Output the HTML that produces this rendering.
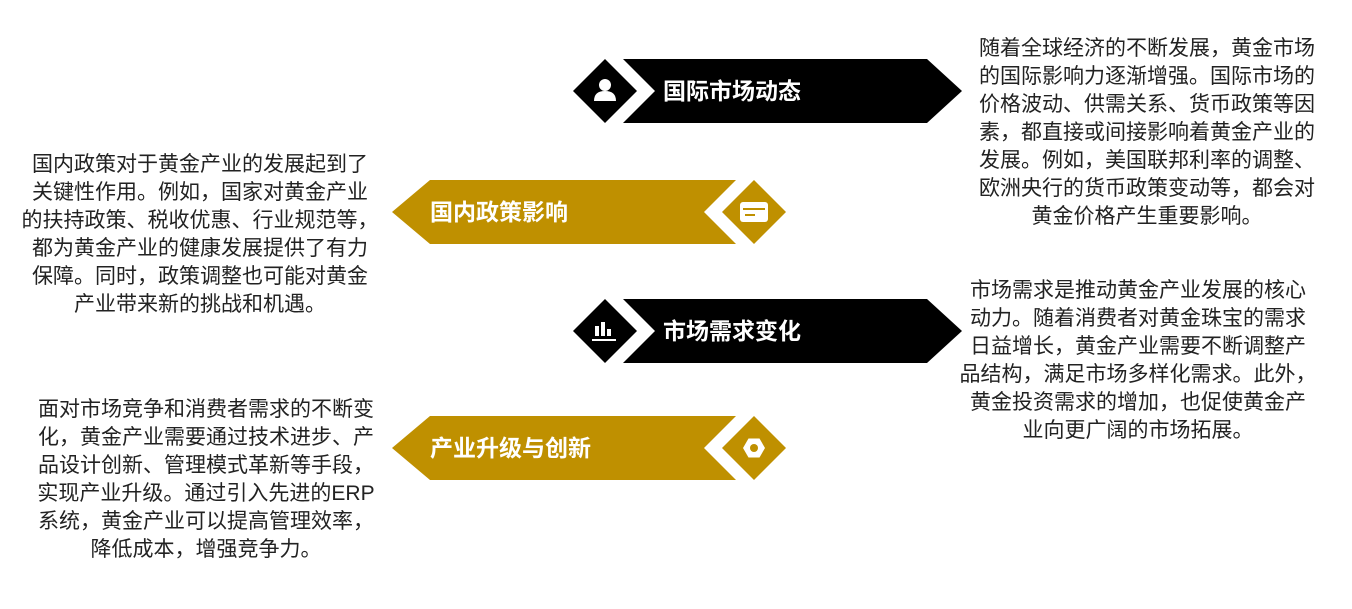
<!DOCTYPE html>
<html><head><meta charset="utf-8"><style>
body{margin:0;width:1352px;height:609px;background:#fff;position:relative;overflow:hidden;font-family:"Liberation Sans","Noto Sans CJK SC",sans-serif;}
.t{position:absolute;font-size:21px;line-height:28px;color:#222;text-align:center;white-space:nowrap;}
.l{position:absolute;font-size:23px;font-weight:bold;color:#fff;line-height:64px;}
svg{position:absolute;left:0;top:0}
</style></head><body>
<svg width="1352" height="609">
<g>
<polygon points="573,91 605,59 637,91 605,123" fill="#000"/>
<polygon points="623,59 927,59 962,91 927,123 623,123 655,91" fill="#000"/>
<circle cx="605" cy="85" r="6" fill="#fff"/><path d="M594,101 q0,-10 11,-10 q11,0 11,10 z" fill="#fff"/>
</g>
<g>
<polygon points="722,212 754,180 786,212 754,244" fill="#BF9000"/>
<polygon points="736,180 704,212 736,244 430,244 392,212 430,180" fill="#BF9000"/>
<rect x="740" y="202" width="28" height="20" rx="3" fill="#fff"/><rect x="743" y="208" width="22" height="2" fill="#BF9000"/><rect x="745" y="214" width="10" height="2" fill="#BF9000"/>
</g>
<g>
<polygon points="573,331 605,299 637,331 605,363" fill="#000"/>
<polygon points="623,299 927,299 962,331 927,363 623,363 655,331" fill="#000"/>
<rect x="595" y="326" width="4" height="10" fill="#fff"/><rect x="601" y="322" width="4" height="14" fill="#fff"/><rect x="607" y="329" width="4" height="7" fill="#fff"/><rect x="592" y="339" width="24" height="2" fill="#fff"/>
</g>
<g>
<polygon points="722,448 754,416 786,448 754,480" fill="#BF9000"/>
<polygon points="736,416 704,448 736,480 430,480 392,448 430,416" fill="#BF9000"/>
<polygon points="743,448 748.5,438.5 759.5,438.5 765,448 759.5,457.5 748.5,457.5" fill="#fff"/><circle cx="754" cy="448" r="4" fill="#BF9000"/>
</g>
</svg>
<div class="l" style="left:663px;top:59px">国际市场动态</div>
<div class="l" style="left:430px;top:180px">国内政策影响</div>
<div class="l" style="left:663px;top:299px">市场需求变化</div>
<div class="l" style="left:430px;top:416px">产业升级与创新</div>
<div class="t" style="left:966px;top:35px;width:362px">随着全球经济的不断发展，黄金市场<br>的国际影响力逐渐增强。国际市场的<br>价格波动、供需关系、货币政策等因<br>素，都直接或间接影响着黄金产业的<br>发展。例如，美国联邦利率的调整、<br>欧洲央行的货币政策变动等，都会对<br>黄金价格产生重要影响。</div>
<div class="t" style="left:18px;top:151px;width:364px">国内政策对于黄金产业的发展起到了<br>关键性作用。例如，国家对黄金产业<br>的扶持政策、税收优惠、行业规范等，<br>都为黄金产业的健康发展提供了有力<br>保障。同时，政策调整也可能对黄金<br>产业带来新的挑战和机遇。</div>
<div class="t" style="left:956px;top:277px;width:364px">市场需求是推动黄金产业发展的核心<br>动力。随着消费者对黄金珠宝的需求<br>日益增长，黄金产业需要不断调整产<br>品结构，满足市场多样化需求。此外，<br>黄金投资需求的增加，也促使黄金产<br>业向更广阔的市场拓展。</div>
<div class="t" style="left:24px;top:396px;width:364px">面对市场竞争和消费者需求的不断变<br>化，黄金产业需要通过技术进步、产<br>品设计创新、管理模式革新等手段，<br>实现产业升级。通过引入先进的ERP<br>系统，黄金产业可以提高管理效率，<br>降低成本，增强竞争力。</div>
</body></html>
